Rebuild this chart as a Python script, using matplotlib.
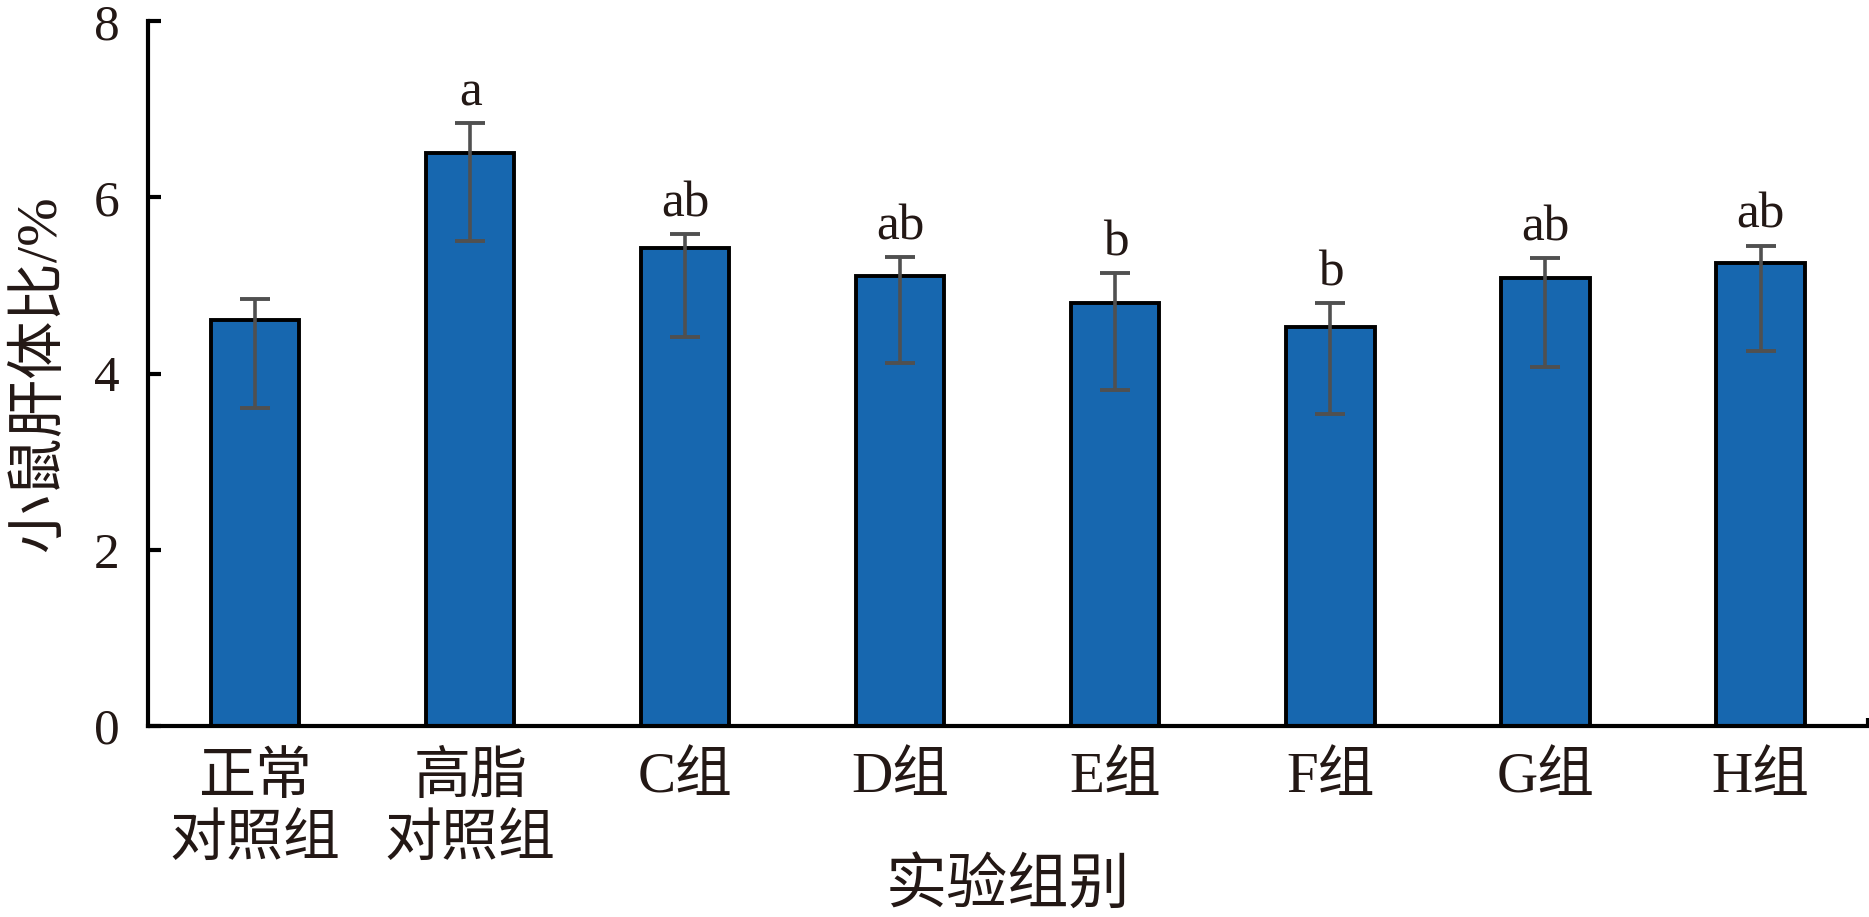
import matplotlib.pyplot as plt
import numpy as np

plt.rcParams['font.family'] = ['Liberation Serif', 'Noto Sans CJK SC']

# 数据
groups = ['正常\n对照组', '高脂\n对照组', 'C组', 'D组', 'E组', 'F组', 'G组', 'H组']
values = [4.61, 6.51, 5.43, 5.11, 4.80, 4.53, 5.08, 5.26]
err_top = [4.85, 6.84, 5.58, 5.32, 5.14, 4.80, 5.31, 5.45]
err_bottom = [3.61, 5.50, 4.42, 4.12, 3.81, 3.54, 4.08, 4.26]
letters = ['', 'a', 'ab', 'ab', 'b', 'b', 'ab', 'ab']

vals = np.array(values)
yerr = [vals - np.array(err_bottom), np.array(err_top) - vals]
x = np.arange(len(groups))

fig = plt.figure(figsize=(18.69, 9.17), dpi=100)
ax = fig.add_axes([0.079, 0.2083, 0.9205, 0.7685])

ax.bar(x, vals, width=0.41, color='#1767AF', edgecolor='black', linewidth=2.8, zorder=2)
ax.errorbar(x, vals, yerr=yerr, fmt='none', ecolor='#505050', elinewidth=2.6,
            capsize=11, capthick=2.8, zorder=3)

# 显著性字母
for xi, top, s in zip(x, err_top, letters):
    if s:
        ax.annotate(s, (xi, top), xytext=(0, 5), textcoords='offset points',
                    ha='center', va='bottom', fontsize=37, color='#231815')

ax.set_xlim(-0.5, 7.5)
ax.set_ylim(0, 8)
ax.set_yticks([0, 2, 4, 6, 8])
ax.set_xticks(x)
ax.set_xticks([7.5], minor=True)
ax.set_xticklabels(groups, fontsize=41, linespacing=1.22, va='top')

for sp in ['top', 'right']:
    ax.spines[sp].set_visible(False)
for sp in ['left', 'bottom']:
    ax.spines[sp].set_linewidth(3)

ax.tick_params(axis='y', direction='in', length=9, width=3, labelsize=37, pad=20, labelcolor='#231815')
ax.tick_params(axis='x', which='both', direction='in', length=6, width=3, pad=19, labelcolor='#231815')

ax.set_ylabel('小鼠肝体比/%', fontsize=42, color='#231815')
ax.set_xlabel('实验组别', fontsize=44, color='#231815', labelpad=-6)
ax.yaxis.set_label_coords(-0.047, 0.5)

fig.savefig('out.png', dpi=100)
